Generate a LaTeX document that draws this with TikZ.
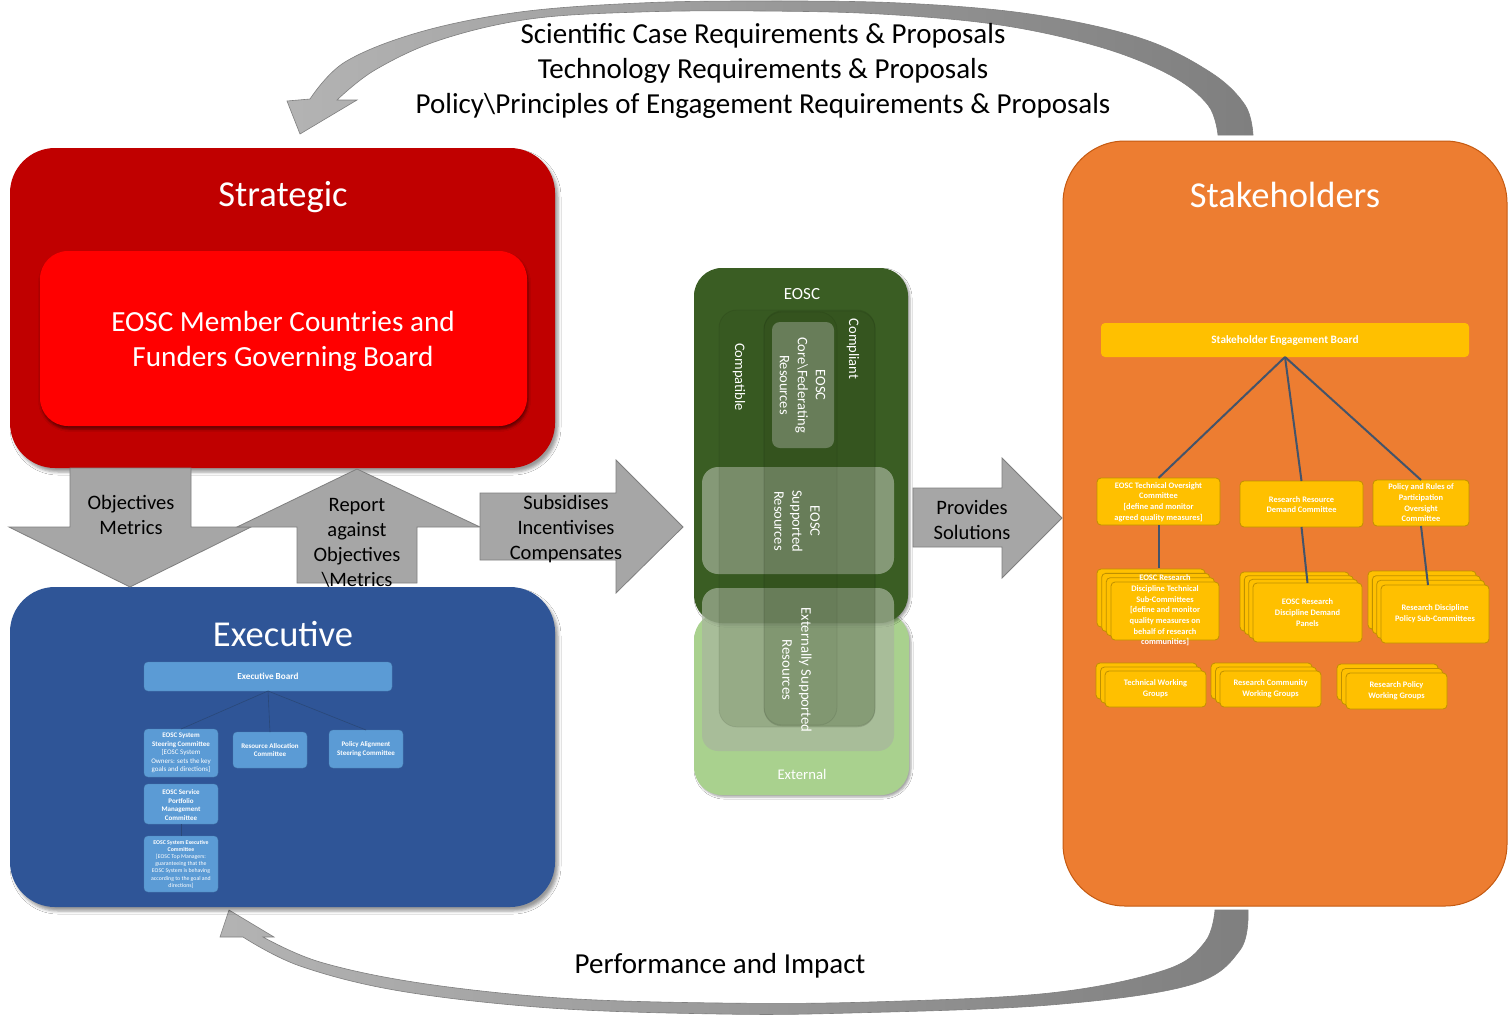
\documentclass[tikz,border=0pt]{standalone}
\usepackage{fontspec}
\setmainfont{Carlito}
\usetikzlibrary{shadows.blur,calc}
\definecolor{strred}{HTML}{C00000}
\definecolor{brred}{HTML}{FF0000}
\definecolor{exblue}{HTML}{2F5597}
\definecolor{ltblue}{HTML}{5B9BD5}
\definecolor{orng}{HTML}{ED7D31}
\definecolor{orngd}{HTML}{C55A11}
\definecolor{gold}{HTML}{FFC000}
\definecolor{goldd}{HTML}{BF9000}
\definecolor{slate}{HTML}{44546A}
\definecolor{dgreen}{HTML}{3A5D23}
\definecolor{lgreen}{HTML}{A9D18E}
\definecolor{sage}{HTML}{A8B59E}
\definecolor{arrg}{HTML}{A6A6A6}
\definecolor{arrd}{HTML}{7F7F7F}
\definecolor{exline}{HTML}{2A4878}
\newcommand\myfs[2]{\fontsize{#1}{#2}\selectfont}
\begin{document}
\begin{tikzpicture}[x=1pt,y=-1pt,
  box/.style={rectangle, inner sep=0pt, outer sep=0pt},
  bigbox/.style={box, rounded corners=45pt, blur shadow={shadow xshift=3pt, shadow yshift=-4pt, shadow blur radius=3pt, shadow opacity=40}},
  wtext/.style={text=white, inner sep=0pt, align=center},
  ktext/.style={text=black, inner sep=0pt, align=center},
  exsub/.style={box, fill=ltblue, draw=ltblue!85!black, line width=0.3pt, rounded corners=4pt},
  ybox/.style={box, fill=gold, draw=goldd, line width=0.8pt, rounded corners=4pt},
  grayarrow/.style={fill=arrg, draw=arrd, line width=0.8pt, line join=miter},
  column/.style={box, fill=dgreen!70!black, fill opacity=0.14, draw=black, draw opacity=0.08, line width=0.8pt, rounded corners=18pt},
  glass/.style={box, fill=sage, fill opacity=0.69, rounded corners=16pt},
  exconn/.style={draw=exline, line width=0.6pt},
  skconn/.style={draw=slate, line width=2pt},
]
\useasboundingbox (0,0) rectangle (1509,1015);
\fill[white] (0,0) rectangle (1509,1015);

% ---------- curved arrows ----------
\shadedraw[left color=arrg!85!white, right color=arrd, draw=arrd, line width=0.6pt]
  plot[smooth, tension=0.6] coordinates {(1253,135) (1245,105) (1210,72) (1140,38) (1030,14) (900,3) (760,1) (640,3) (520,12) (420,32) (345,62) (310,99)}
  -- (287,101) -- (300,134) -- (357,100) -- (337,100)
  -- plot[smooth, tension=0.6] coordinates {(337,100) (375,70) (440,40) (530,19) (640,12) (760,11) (880,14) (1000,25) (1100,47) (1170,75) (1208,105) (1218,135)} -- cycle;

\shadedraw[left color=arrg!85!white, right color=arrd, draw=arrd, line width=0.6pt]
  plot[smooth, tension=0.6] coordinates {(1248,910) (1240,950) (1190,985) (1050,1005) (850,1013) (720,1014) (550,1008) (400,991) (300,966) (243,937)}
  -- (220,937) -- (229,910) -- (274,937) -- (263,937)
  -- plot[smooth, tension=0.6] coordinates {(263,937) (320,962) (420,983) (560,998) (720,1003) (870,1002) (1050,993) (1165,970) (1205,942) (1215,910)} -- cycle;

\node[ktext, font=\myfs{29}{35}] (toptext) at (763,71) {Scientific Case Requirements \& Proposals\\Technology Requirements \& Proposals\\Policy\textbackslash Principles of Engagement Requirements \& Proposals};
\node[ktext, font=\myfs{29}{35}] (bottext) at (720,966) {Performance and Impact};

% ---------- Strategic ----------
\node[bigbox, fill=strred, minimum width=545pt, minimum height=320pt] (strat) at (282.5,308) {};
\node[wtext, font=\myfs{36.5}{44}] (strattitle) at (283,197) {Strategic};
\node[box, fill=brred, rounded corners=28pt, minimum width=487pt, minimum height=175pt,
  blur shadow={shadow xshift=1pt, shadow yshift=-3pt, shadow blur radius=2.5pt, shadow opacity=50}] (gov) at (283.5,338.5) {};
\node[wtext, font=\myfs{29.2}{35}] (govtext) at (283,341) {EOSC Member Countries and\\Funders Governing Board};

% ---------- Executive ----------
\node[bigbox, fill=exblue, minimum width=545pt, minimum height=320pt] (exec) at (282.5,747) {};
\node[wtext, font=\myfs{36.5}{44}] (exectitle) at (283,634) {Executive};
\node[exsub, minimum width=248pt, minimum height=29pt] (eb) at (268,676.5) {};
\node[wtext, font=\bfseries\myfs{9.2}{11}] (ebt) at (eb) {Executive Board};
\node[exsub, minimum width=74pt, minimum height=48pt] (ssc) at (181,753) {};
\node[exsub, minimum width=74pt, minimum height=36pt] (rac) at (270,750) {};
\node[exsub, minimum width=74pt, minimum height=38pt] (pasc) at (366,749) {};
\node[exsub, minimum width=74pt, minimum height=40pt] (spm) at (181,804) {};
\node[exsub, minimum width=74pt, minimum height=56pt] (sec) at (181,864) {};
\draw[exconn] (eb.south) -- (ssc.north);
\draw[exconn] (eb.south) -- (rac.north);
\draw[exconn] (eb.south) -- (pasc.north);
\draw[exconn] (spm.south) -- (sec.north);
\node[wtext, font=\myfs{7}{8.6}] (ssct) at (181,753) {\textbf{EOSC System}\\\textbf{Steering Committee}\\{[}EOSC System\\Owners: sets the key\\goals and directions{]}};
\node[wtext, font=\bfseries\myfs{7}{8.6}] (ract) at (rac) {Resource Allocation\\Committee};
\node[wtext, font=\bfseries\myfs{7}{8.6}] (pasct) at (pasc) {Policy Alignment\\Steering Committee};
\node[wtext, font=\bfseries\myfs{7}{8.6}] (spmt) at (181,805) {EOSC Service\\Portfolio\\Management\\Committee};
\node[wtext, font=\myfs{5.8}{7.2}] (sect) at (181,864) {\textbf{EOSC System Executive}\\\textbf{Committee}\\{[}EOSC Top Managers:\\guaranteeing that the\\EOSC System is behaving\\according to the goal and\\directions{]}};

% ---------- EOSC centre ----------
\node[box, fill=lgreen, rounded corners=28pt, minimum width=215pt, minimum height=183pt,
  blur shadow={shadow xshift=2pt, shadow yshift=-2pt, shadow blur radius=2pt, shadow opacity=35}] (ext) at (801.5,703.5) {};
\node[box, fill=dgreen, rounded corners=28pt, minimum width=214pt, minimum height=355pt,
  blur shadow={shadow xshift=2pt, shadow yshift=-2pt, shadow blur radius=2pt, shadow opacity=35}] (eosc) at (801,445.5) {};
\node[glass, rounded corners=8pt, minimum width=62pt, minimum height=126pt] (core) at (803,385) {};
\node[glass, minimum width=192pt, minimum height=107pt] (supp) at (798,520.5) {};
\node[glass, minimum width=192pt, minimum height=163pt] (extsupp) at (798,669.5) {};
\node[column, minimum width=156pt, minimum height=417pt] (compat) at (797,518.5) {};
\node[column, minimum width=111pt, minimum height=415pt] (compl) at (819.5,518.5) {};
\node[column, fill opacity=0.05, minimum width=73pt, minimum height=413pt] (corecol) at (800.5,518.5) {};
\node[wtext, font=\myfs{17}{20}] (eosct) at (802,294) {EOSC};
\node[wtext, font=\myfs{14.7}{18}] (extt) at (802,774) {External};
\node[wtext, rotate=-90, font=\myfs{14.5}{18}] (compatt) at (739,377) {Compatible};
\node[wtext, rotate=-90, font=\myfs{14.5}{18}] (complt) at (853,349) {Compliant};
\node[wtext, rotate=-90, font=\myfs{14.5}{18}] (coret) at (802.5,385) {EOSC\\Core\textbackslash Federating\\Resources};
\node[wtext, rotate=-90, font=\myfs{14.5}{18}] (suppt) at (797,521) {EOSC\\Supported\\Resources};
\node[wtext, rotate=-90, font=\myfs{14.7}{19}] (extsuppt) at (797,670) {Externally Supported\\Resources};

% ---------- Stakeholders ----------
\node[box, fill=orng, draw=orngd, line width=1pt, rounded corners=62pt, minimum width=444pt, minimum height=765pt] (stake) at (1285,523.5) {};
\node[wtext, font=\myfs{36.5}{44}] (staket) at (1285,195) {Stakeholders};
\node[box, fill=gold, rounded corners=4pt, minimum width=368pt, minimum height=34pt] (seb) at (1285,340) {};
\node[wtext, font=\bfseries\myfs{11.3}{13}] (sebt) at (seb) {Stakeholder Engagement Board};

\node[ybox, minimum width=123pt, minimum height=47pt] (toc) at (1158.5,501.5) {};
\node[ybox, minimum width=123pt, minimum height=46pt] (rrdc) at (1301.5,504) {};
\node[ybox, minimum width=96pt, minimum height=46pt] (proc) at (1421,503) {};
\draw[skconn] (seb.south) -- (toc.north);
\draw[skconn] (seb.south) -- (rrdc.north);
\draw[skconn] (seb.south) -- (proc.north);

% stacks
\foreach \i in {3,2,1} {
  \node[ybox, minimum width=108pt, minimum height=58pt] at (1165-4.67*\i, 611-4.33*\i) {};
  \node[ybox, minimum width=109pt, minimum height=59pt] at (1307.5-4.33*\i, 612.5-3.67*\i) {};
  \node[ybox, minimum width=108pt, minimum height=58pt] at (1435-4.33*\i, 614-4.67*\i) {};
}
\node[ybox, minimum width=108pt, minimum height=58pt] (tsc) at (1165,611) {};
\node[ybox, minimum width=109pt, minimum height=59pt] (dp) at (1307.5,612.5) {};
\node[ybox, minimum width=108pt, minimum height=58pt] (psc) at (1435,614) {};
\coordinate (tsctop) at (1158.5,568);
\draw[skconn] (toc.south) -- (tsctop);
\draw[skconn] (rrdc.south) -- (dp.north);
\draw[skconn] (proc.south) -- ([xshift=-7pt]psc.north);

\foreach \i in {2,1} {
  \node[ybox, minimum width=101pt, minimum height=36pt] at (1155.5-4.5*\i, 689-4*\i) {};
  \node[ybox, minimum width=101pt, minimum height=36pt] at (1270.5-4.5*\i, 689-4*\i) {};
  \node[ybox, minimum width=101pt, minimum height=36pt] at (1396.5-4.5*\i, 691-4.5*\i) {};
}
\node[ybox, minimum width=101pt, minimum height=36pt] (twg) at (1155.5,689) {};
\node[ybox, minimum width=101pt, minimum height=36pt] (rcwg) at (1270.5,689) {};
\node[ybox, minimum width=101pt, minimum height=36pt] (rpwg) at (1396.5,691) {};

\node[wtext, font=\bfseries\myfs{8.4}{10.7}] (toct) at (1158.5,502) {EOSC Technical Oversight\\Committee\\{[}define and monitor\\agreed quality measures{]}};
\node[wtext, font=\bfseries\myfs{8.4}{10.7}] (rrdct) at (1301.5,504.5) {Research Resource\\Demand Committee};
\node[wtext, font=\bfseries\myfs{8.4}{10.7}] (proct) at (1421,503) {Policy and Rules of\\Participation\\Oversight\\Committee};
\node[wtext, font=\bfseries\myfs{8.4}{10.7}] (tsct) at (1165,610.5) {EOSC Research\\Discipline Technical\\Sub-Committees\\{[}define and monitor\\quality measures on\\behalf of research\\communities{]}};
\node[wtext, font=\bfseries\myfs{8.4}{10.7}] (dpt) at (1307.5,612.5) {EOSC Research\\Discipline Demand\\Panels};
\node[wtext, font=\bfseries\myfs{8.4}{10.7}] (psct) at (1435,613.5) {Research Discipline\\Policy Sub-Committees};
\node[wtext, font=\bfseries\myfs{8.4}{10.7}] (twgt) at (1155.5,688.5) {Technical Working\\Groups};
\node[wtext, font=\bfseries\myfs{8.4}{10.7}] (rcwgt) at (1270.5,688.5) {Research Community\\Working Groups};
\node[wtext, font=\bfseries\myfs{8.4}{10.7}] (rpwgt) at (1396.5,690.5) {Research Policy\\Working Groups};

% ---------- block arrows ----------
\filldraw[grayarrow] (70,468) -- (191,468) -- (191,527) -- (251,527) -- (130,587) -- (9,527) -- (70,527) -- cycle;
\filldraw[grayarrow] (357,469) -- (480,527) -- (417,527) -- (417,583) -- (297,583) -- (297,527) -- (237,527) -- cycle;
\filldraw[grayarrow] (480,493) -- (616,493) -- (616,460) -- (683,527) -- (616,593) -- (616,560) -- (480,560) -- cycle;
\filldraw[grayarrow] (913,488) -- (1002,488) -- (1002,458) -- (1062,518) -- (1002,578) -- (1002,547) -- (913,547) -- cycle;
\node[ktext, font=\myfs{20.5}{25}] (objt) at (131,515) {Objectives\\Metrics};
\node[ktext, font=\myfs{20.5}{25}] (rept) at (357,542.5) {Report\\against\\Objectives\\\textbackslash Metrics};
\node[ktext, font=\myfs{20.5}{25}] (subt) at (566,529) {Subsidises\\Incentivises\\Compensates};
\node[ktext, font=\myfs{20.5}{25}] (provt) at (972,520) {Provides\\Solutions};
\end{tikzpicture}
\end{document}
